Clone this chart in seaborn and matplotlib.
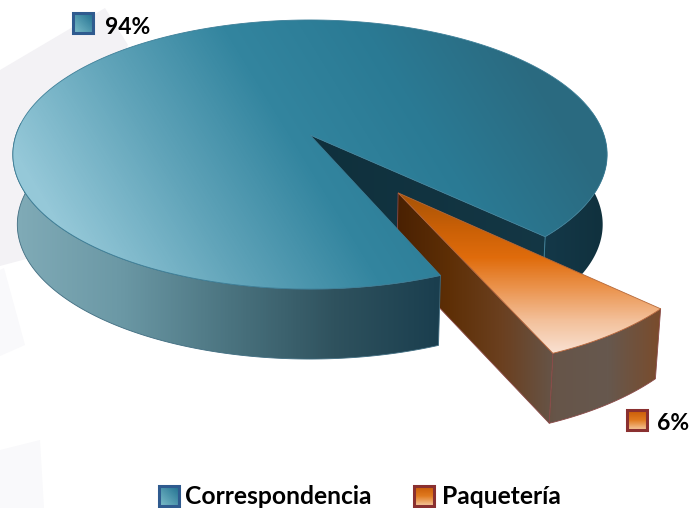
import numpy as np
import matplotlib
matplotlib.use('Agg')
import matplotlib.pyplot as plt
from matplotlib.patches import Polygon
import seaborn as sns

# Data
categories = ['Correspondencia', 'Paquetería']
shares = [93.5, 6.5]
pct_labels = ['94%', '6%']

# Geometry of the tilted disc, in pixels
CX, CY = 310.0, 135.0
AX_X, AX_Y = 294.0, 131.7
PERSP = 0.145
DEPTH = 70.0
WALL_SHRINK = 0.985
START = 67.4
EXPLODE = 0.5

sns.set_theme(style='white')
plt.rcParams['font.family'] = ['Lato', 'DejaVu Sans']

layer = [2]


def project(u, v):
    """Disc coordinates to canvas pixels"""
    w = 1 - PERSP * np.asarray(v)
    return CX + AX_X * np.asarray(u) / w, CY + AX_Y * np.asarray(v) / w


def drop(x, y):
    """Move a top face point down to the foot of the wall"""
    return CX + (np.asarray(x) - CX) * WALL_SHRINK, np.asarray(y) + DEPTH


def arc(t0, t1, u0=0.0, v0=0.0):
    t = np.radians(np.linspace(t0, t1, 240))
    return project(u0 + np.cos(t), v0 + np.sin(t))


def fill(ax, x, y, colors, p0, p1, edge=None):
    """Fill a polygon with a linear gradient running from p0 to p1"""
    cmap = sns.blend_palette(colors, as_cmap=True)
    gx, gy = np.meshgrid(np.arange(692) + 0.5, np.arange(508) + 0.5)
    dx, dy = p1[0] - p0[0], p1[1] - p0[1]
    t = ((gx - p0[0]) * dx + (gy - p0[1]) * dy) / (dx * dx + dy * dy)
    layer[0] += 1
    im = ax.imshow(np.clip(t, 0, 1), cmap=cmap, vmin=0, vmax=1, aspect='auto',
                   extent=(0, 692, 508, 0), interpolation='bilinear', zorder=layer[0])
    poly = Polygon(np.column_stack([x, y]), closed=True, facecolor='none',
                   edgecolor=edge if edge else 'none', linewidth=0.6, zorder=layer[0] + 0.5)
    ax.add_patch(poly)
    im.set_clip_path(poly)


def wall(ax, x, y, colors, x0, x1, edge=None):
    bx, by = drop(x, y)
    fill(ax, np.r_[x, bx[::-1]], np.r_[y, by[::-1]], colors,
         (x0, 0), (x1, 0), edge)


def swatch(ax, x, y, colors, border, p0, p1):
    sx = [x, x + 20, x + 20, x]
    sy = [y, y, y + 20, y + 20]
    fill(ax, sx, sy, colors, p0, p1, None)
    ax.add_patch(Polygon(np.column_stack([sx, sy]), closed=True, zorder=layer[0] + 0.6,
                         facecolor='none', edgecolor=border, linewidth=2.2))


fig = plt.figure(figsize=(6.92, 5.08), dpi=100)
ax = fig.add_axes([0, 0, 1, 1])
ax.set_axis_off()

# Faint shapes behind the chart
for pts, col in [([(0, 70), (105, 8), (128, 45), (60, 200), (30, 258), (0, 266)], '#f3f2f5'),
                 ([(4, 268), (25, 345), (0, 356), (0, 270)], '#f9f9fb'),
                 ([(0, 450), (40, 440), (44, 508), (0, 508)], '#f9f9fb')]:
    ax.add_patch(Polygon(pts, closed=True, facecolor=col, edgecolor='none', zorder=1))

main_end = START + shares[0] * 3.6
cut = main_end % 360
orange_end = cut + shares[1] * 3.6
mid = np.radians((cut + orange_end) / 2)

# Back of the gap in the big slice
ux, uy = project(np.cos(np.radians(cut)), np.sin(np.radians(cut)))
ax_x, ax_y = project(0, 0)
bx, by = drop([ax_x, float(ux)], [ax_y, float(uy)])
x, y = arc(-10, cut)
wall(ax, x, y, ['#14394a', '#10303c'], 540, 610)
fill(ax, [ax_x, float(ux), bx[1], bx[0]], [ax_y, float(uy), by[1], by[0]],
     ['#0f303c', '#143745'], (300, 0), (560, 0))
ax.plot([float(ux), bx[1]], [float(uy), by[1]], color='#3d7f98', linewidth=0.7, zorder=layer[0] + 0.6)

# Exploded slice
u0, v0 = EXPLODE * np.cos(mid), EXPLODE * np.sin(mid)
apex_x, apex_y = project(u0, v0)
x, y = arc(cut, orange_end, u0, v0)
side_colors = ['#4a2102', '#5e2f06', '#6b4020', '#665549', '#66584e', '#7a4c2c']
wall(ax, x, y, side_colors, 398, 660, '#8a4a48')
wall(ax, np.r_[float(apex_x), x[-1]], np.r_[float(apex_y), y[-1]], side_colors, 398, 660, '#8a4a48')
fill(ax, np.r_[float(apex_x), x], np.r_[float(apex_y), y],
     ['#a85406', '#c85f06', '#e06c0c', '#eb9550', '#f3c09a', '#f9e0d0'],
     (0, 195), (0, 352), '#b5683a')

# Big slice
x, y = arc(START, main_end)
wall(ax, *arc(START, 185), ['#80abb7', '#6b98a5', '#4b7480', '#2f525e', '#1a3e4e'], 15, 441, '#3f6c80')
fill(ax, np.r_[x, float(ax_x)], np.r_[y, float(ax_y)],
     ['#95c8d8', '#62a5ba', '#33859f', '#2a7a94', '#2a6a80'],
     (95, 285), (510, 30), '#3d7f98')

# Value labels and legend
blue_sw = ['#7fbfcb', '#1f6f8f']
orange_sw = ['#c85a05', '#e07a20', '#f6c9a0']
swatch(ax, 73, 13, blue_sw, '#2f5b8f', (73, 33), (93, 13))
ax.text(105, 27.5, pct_labels[0], fontsize=16.5, fontweight='bold', color='black', va='center', ha='left', zorder=90)
swatch(ax, 627, 410, orange_sw, '#8a3030', (0, 410), (0, 430))
ax.text(657, 424, pct_labels[1], fontsize=16.5, fontweight='bold', color='black', va='center', ha='left', zorder=90)
swatch(ax, 159, 486, blue_sw, '#2f5b8f', (159, 506), (179, 486))
ax.text(185, 496, categories[0], fontsize=17.7, fontweight='bold', color='black', va='center', ha='left', zorder=90)
swatch(ax, 414, 486, orange_sw, '#8a3030', (0, 486), (0, 506))
ax.text(442, 496, categories[1], fontsize=17.7, fontweight='bold', color='black', va='center', ha='left', zorder=90)

ax.set_xlim(0, 692)
ax.set_ylim(508, 0)
fig.savefig('out.png', dpi=100)
